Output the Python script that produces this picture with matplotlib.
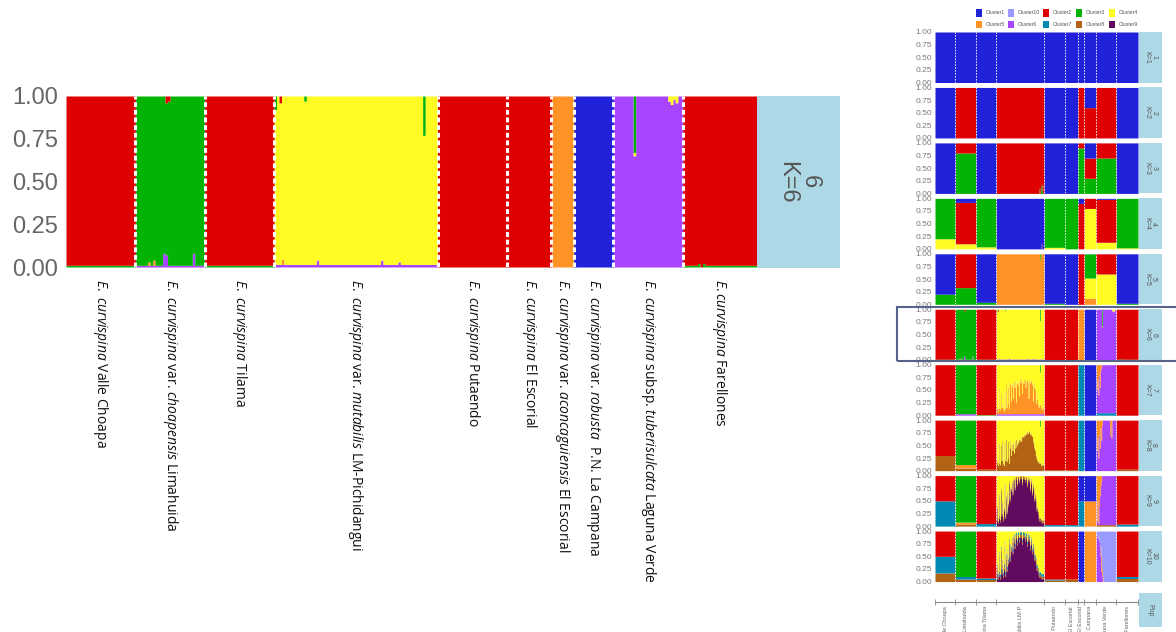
import numpy as np
import matplotlib.pyplot as plt
from matplotlib.patches import Rectangle
import matplotlib.transforms as mtransforms

plt.rcParams['font.family'] = ['Liberation Sans', 'DejaVu Sans']
plt.rcParams['mathtext.fontset'] = 'custom'
plt.rcParams['mathtext.rm'] = 'Open Sans'
plt.rcParams['mathtext.it'] = 'Open Sans:italic'

# ---- data ----
pop_labels = [
    r'$\it{E.\ curvispina}$ Valle Choapa',
    r'$\it{E.\ curvispina}$ var. $\it{choapensis}$ Limahuida',
    r'$\it{E.\ curvispina}$ Tilama',
    r'$\it{E.\ curvispina}$ var. $\it{mutabilis}$ LM-Pichidangui',
    r'$\it{E.\ curvispina}$ Putaendo',
    r'$\it{E.\ curvispina}$ El Escorial',
    r'$\it{E.\ curvispina}$ var. $\it{aconcaguiensis}$ El Escorial',
    r'$\it{E.\ curvispina}$ var. $\it{robusta}$  P.N. La Campana',
    r'$\it{E.\ curvispina}$ subsp. $\it{tuberisulcata}$ Laguna Verde',
    r'$\it{E.curvispina}$ Farellones',
]
pop_short = ['E. curvispina Valle Choapa', 'E. curvispina Limahuida', 'E. curvispina Tilama',
             'E. curvispina var. mutabilis LM-P', 'E. curvispina Putaendo', 'E. curvispina El Escorial',
             'aconcaguiensis El Escorial', 'robusta La Campana', 'tuberisulcata Laguna Verde',
             'E. curvispina Farellones']
pop_n = [28, 28, 28, 66, 28, 18, 9, 16, 28, 30]

cluster_colors = {1: '#2121D9', 10: '#9999FF', 2: '#DF0101', 3: '#04B404', 4: '#FFFB23',
                  5: '#FF9326', 6: '#A945FF', 7: '#0089B2', 8: '#B26314', 9: '#610B5E'}
stack_order = [1, 10, 2, 3, 4, 5, 6, 7, 8, 9]  # top to bottom

# population mean memberships per K (cluster: fraction), pops in order above
pop_means = {
    1: [{1: 1}] * 10,
    2: [{1: 1}, {2: 1}, {1: 1}, {2: 1}, {1: 1}, {1: 1}, {2: 1}, {1: 0.4, 2: 0.6}, {2: 1}, {1: 1}],
    3: [{1: 1}, {2: 0.2, 3: 0.8}, {1: 1}, {2: 1}, {1: 1}, {1: 1}, {2: 0.1, 3: 0.9},
        {1: 0.3, 2: 0.4, 3: 0.3}, {2: 0.3, 3: 0.7}, {1: 1}],
    4: [{3: 0.8, 4: 0.2}, {1: 0.08, 2: 0.82, 4: 0.1}, {3: 0.96, 4: 0.04}, {1: 1},
        {3: 0.97, 4: 0.03}, {3: 1}, {1: 0.1, 2: 0.9}, {2: 0.2, 4: 0.8},
        {1: 0.02, 2: 0.85, 4: 0.13}, {3: 0.98, 4: 0.02}],
    5: [{1: 0.8, 3: 0.2}, {2: 0.67, 3: 0.33}, {1: 0.96, 3: 0.04}, {5: 1}, {1: 0.98, 3: 0.02},
        {1: 1}, {2: 1}, {3: 0.48, 4: 0.4, 5: 0.12}, {2: 0.4, 4: 0.6}, {1: 0.98, 3: 0.02}],
    6: [{2: 0.99, 3: 0.01}, {3: 0.99, 6: 0.01}, {2: 0.99, 3: 0.01}, {4: 0.985, 6: 0.015},
        {2: 1}, {2: 1}, {5: 1}, {1: 1}, {6: 1}, {2: 0.99, 3: 0.01}],
    7: [{2: 1}, {3: 0.97, 6: 0.03}, {2: 0.99, 3: 0.01}, {4: 0.97, 6: 0.03}, {2: 1}, {2: 1},
        {7: 1}, {1: 1}, {6: 0.95, 7: 0.05}, {2: 1}],
    8: [{2: 0.7, 8: 0.3}, {3: 0.88, 5: 0.07, 8: 0.05}, {2: 0.97, 8: 0.03}, {4: 1},
        {2: 0.98, 8: 0.02}, {2: 0.98, 8: 0.02}, {7: 1}, {1: 1}, {6: 1}, {2: 0.97, 8: 0.03}],
    9: [{2: 0.5, 7: 0.5}, {3: 0.92, 5: 0.04, 8: 0.04}, {2: 0.95, 7: 0.05}, {4: 0.95, 8: 0.05},
        {2: 0.97, 7: 0.03}, {2: 0.97, 7: 0.03}, {1: 0.5, 7: 0.5}, {1: 0.5, 5: 0.5},
        {6: 0.97, 8: 0.03}, {2: 0.96, 7: 0.04}],
    10: [{2: 0.5, 7: 0.33, 8: 0.17}, {3: 0.9, 7: 0.05, 8: 0.05}, {2: 0.93, 7: 0.03, 8: 0.04},
         {4: 0.9, 7: 0.05, 8: 0.05}, {2: 0.95, 7: 0.02, 8: 0.03}, {2: 0.95, 8: 0.05}, {1: 1},
         {5: 1}, {10: 1}, {2: 0.9, 7: 0.04, 8: 0.06}],
}

# individual profiles in mutabilis (66 individuals) for K=7..10
mu_orange_k7 = [0.10, 0.12, 0.05, 0.50, 0.10, 0.08, 0.40, 0.12, 0.18, 0.10,
                0.05, 0.45, 0.10, 0.58, 0.12, 0.20, 0.52, 0.10, 0.62, 0.58,
                0.25, 0.55, 0.60, 0.30, 0.64, 0.52, 0.66, 0.22, 0.60, 0.65,
                0.56, 0.35, 0.68, 0.62, 0.70, 0.40, 0.65, 0.60, 0.68, 0.66,
                0.52, 0.64, 0.68, 0.62, 0.30, 0.66, 0.60, 0.68, 0.64, 0.58,
                0.25, 0.60, 0.52, 0.48, 0.20, 0.42, 0.28, 0.18, 0.12, 0.22,
                0.18, 0.12, 0.08, 0.18, 0.12, 0.08]
mu_brown_k8 = [0.15, 0.20, 0.10, 0.55, 0.15, 0.12, 0.50, 0.20, 0.60, 0.15,
               0.10, 0.55, 0.20, 0.62, 0.18, 0.25, 0.58, 0.15, 0.45, 0.60,
               0.30, 0.52, 0.40, 0.55, 0.35, 0.60, 0.45, 0.62, 0.50, 0.58,
               0.55, 0.62, 0.60, 0.65, 0.58, 0.68, 0.70, 0.66, 0.72, 0.70,
               0.75, 0.72, 0.78, 0.74, 0.76, 0.80, 0.72, 0.75, 0.70, 0.68,
               0.60, 0.55, 0.45, 0.40, 0.30, 0.25, 0.20, 0.18, 0.15, 0.20,
               0.15, 0.12, 0.10, 0.15, 0.12, 0.10]
mu_dpurple_k9 = [0.10, 0.35, 0.05, 0.60, 0.15, 0.08, 0.70, 0.20, 0.45, 0.10,
                 0.30, 0.80, 0.15, 0.55, 0.25, 0.65, 0.40, 0.85, 0.50, 0.75,
                 0.70, 0.85, 0.62, 0.88, 0.92, 0.72, 0.93, 0.94, 0.80, 0.94,
                 0.94, 0.86, 0.95, 0.94, 0.95, 0.82, 0.94, 0.95, 0.93, 0.88,
                 0.92, 0.94, 0.78, 0.93, 0.88, 0.91, 0.70, 0.90, 0.84, 0.62,
                 0.78, 0.72, 0.50, 0.60, 0.50, 0.30, 0.35, 0.25, 0.15, 0.10,
                 0.12, 0.08, 0.10, 0.06, 0.08, 0.05]
mu_dpurple_k10 = [0.05, 0.25, 0.05, 0.50, 0.10, 0.05, 0.60, 0.15, 0.35, 0.08,
                  0.25, 0.70, 0.10, 0.45, 0.20, 0.55, 0.35, 0.75, 0.40, 0.65,
                  0.60, 0.78, 0.55, 0.80, 0.85, 0.66, 0.86, 0.88, 0.72, 0.88,
                  0.89, 0.78, 0.89, 0.88, 0.89, 0.74, 0.88, 0.89, 0.87, 0.80,
                  0.85, 0.87, 0.70, 0.86, 0.80, 0.84, 0.62, 0.80, 0.74, 0.55,
                  0.66, 0.60, 0.42, 0.45, 0.38, 0.22, 0.24, 0.18, 0.12, 0.08,
                  0.10, 0.06, 0.08, 0.05, 0.06, 0.04]

# (K, pop, cluster, taken from cluster, first individual, values)
profiles = [
    (3, 3, 3, 2, 59, [0.10, 0.0, 0.15, 0.05, 0.18]),
    (4, 3, 2, 1, 62, [0.10]),
    (5, 3, 3, 5, 60, [0.12]),
    (6, 1, 6, 3, 11, [0.08, 0.07]),
    (6, 1, 6, 3, 23, [0.08]),
    (6, 1, 2, 3, 12, [0.04, 0.03]),
    (6, 1, 5, 3, 5, [0.02, 0.0, 0.03]),
    (6, 3, 3, 4, 0, [0.08]),
    (6, 3, 2, 4, 2, [0.04]),
    (6, 3, 3, 4, 12, [0.03]),
    (6, 3, 6, 4, 17, [0.04]),
    (6, 3, 6, 4, 43, [0.04]),
    (6, 3, 6, 4, 50, [0.03]),
    (6, 3, 5, 4, 3, [0.03]),
    (6, 3, 3, 4, 60, [0.23]),
    (6, 8, 3, 6, 8, [0.33]),
    (6, 8, 4, 6, 8, [0.02]),
    (6, 8, 4, 6, 22, [0.03, 0.05, 0.02, 0.04]),
    (6, 9, 3, 2, 6, [0.02, 0.0, 0.02]),
    (7, 3, 5, 4, 0, mu_orange_k7),
    (7, 3, 3, 4, 60, [0.15]),
    (7, 8, 5, 6, 0, [0.10, 0.50, 0.30, 0.60, 0.20, 0.45, 0.10, 0.05]),
    (8, 3, 8, 4, 0, mu_brown_k8),
    (8, 3, 3, 4, 60, [0.12]),
    (8, 8, 5, 6, 0, [0.20, 0.60, 0.35, 0.75, 0.30, 0.55, 0.15, 0.40, 0.10]),
    (8, 8, 5, 6, 19, [0.30, 0.10, 0.35]),
    (9, 3, 9, 4, 0, mu_dpurple_k9),
    (9, 8, 5, 6, 0, [0.30, 0.90, 0.50, 0.95, 0.60, 0.40, 0.20, 0.10]),
    (10, 3, 9, 4, 0, mu_dpurple_k10),
    (10, 8, 6, 10, 0, [0.90, 0.95, 0.85, 0.90, 0.80, 0.70, 0.50, 0.20, 0.10]),
    (10, 8, 5, 10, 6, [0.20, 0.30, 0.15, 0.10]),
]

# ---- helpers ----
n_total = sum(pop_n)
starts = np.concatenate([[0], np.cumsum(pop_n)])
centers = (starts[:-1] + starts[1:]) / 2


def build_q(k):
    q = np.zeros((n_total, 11))
    for p, means in enumerate(pop_means[k]):
        for c, v in means.items():
            q[starts[p]:starts[p + 1], c] = v
    for kk, p, c, src, i0, vals in profiles:
        if kk != k:
            continue
        for j, v in enumerate(vals):
            r = starts[p] + i0 + j
            q[r, src] -= v - q[r, c]
            q[r, c] = v
    return np.clip(q, 0, None)


def draw_struct(ax, q, lw_div, dash):
    xs = np.arange(n_total + 1)
    lower = np.zeros(n_total)
    for c in stack_order[::-1]:
        upper = lower + q[:, c]
        if q[:, c].any():
            ax.fill_between(xs, np.append(lower, lower[-1]), np.append(upper, upper[-1]),
                            step='post', color=cluster_colors[c], lw=0)
        lower = upper
    for b in starts[1:-1]:
        ax.axvline(b, color='white', lw=lw_div, ls=dash)
    ax.set_xlim(0, n_total)
    ax.set_ylim(0, 1)
    for s in ax.spines.values():
        s.set_visible(False)
    ax.set_xticks([])


W, H = 1176, 632
fig = plt.figure(figsize=(W / 100, H / 100), dpi=100)


def px_axes(x0, y0, x1, y1):
    return fig.add_axes([x0 / W, 1 - y1 / H, (x1 - x0) / W, (y1 - y0) / H])


yt = [0, 0.25, 0.5, 0.75, 1.0]
ytl = ['0.00', '0.25', '0.50', '0.75', '1.00']

# ---- big K=6 panel ----
ax = px_axes(66, 96, 757, 267)
draw_struct(ax, build_q(6), 2.2, (0, (1.6, 0.9)))
ax.set_yticks(yt)
ax.set_yticklabels(ytl, fontsize=17, color='#666666')
ax.tick_params(axis='y', length=0, pad=6)
strip = px_axes(757, 96, 840, 268)
strip.set_facecolor('#ADD8E6')
strip.set_xticks([])
strip.set_yticks([])
for s in strip.spines.values():
    s.set_visible(False)
strip.text(0.5, 0.5, '6\nK=6', rotation=270, ha='center', va='center', fontsize=17,
           color='#555555', linespacing=1.0, transform=strip.transAxes)
trans = mtransforms.blended_transform_factory(ax.transData, ax.transAxes)
for p, lab in enumerate(pop_labels):
    ax.text(centers[p], -0.07, lab, rotation=270, ha='center', va='top', fontsize=10,
            family='Open Sans', color='#111111', transform=trans)

# ---- small faceted panels K=1..10 ----
for k in range(1, 11):
    top = 32 + (k - 1) * 55.45
    a = px_axes(935, top, 1138, top + 50.5)
    draw_struct(a, build_q(k), 0.6, (0, (2, 1.5)))
    a.set_yticks(yt)
    a.set_yticklabels(ytl, fontsize=6, color='#7a7a7a')
    a.tick_params(axis='y', length=0, pad=2)
    st = px_axes(1138.7, top, 1161.7, top + 50.5)
    st.set_facecolor('#ADD8E6')
    st.set_xticks([])
    st.set_yticks([])
    for s in st.spines.values():
        s.set_visible(False)
    st.text(0.5, 0.5, '%d\nK=%d' % (k, k), rotation=270, ha='center', va='center',
            fontsize=5, color='#555555', linespacing=1.0, transform=st.transAxes)

# pop axis at the bottom of facets
pa = px_axes(935, 590, 1138, 602)
pa.set_xlim(0, n_total)
pa.set_ylim(0, 1)
pa.patch.set_alpha(0)
for name, s in pa.spines.items():
    s.set_visible(name == 'bottom')
pa.spines['bottom'].set_color('#8a8a8a')
pa.spines['bottom'].set_linewidth(0.8)
pa.set_yticks([])
pa.set_xticks(starts)
pa.set_xticklabels([])
pa.tick_params(axis='x', direction='inout', length=5, width=0.6, color='#8a8a8a')
ptrans = mtransforms.blended_transform_factory(pa.transData, pa.transAxes)
for p, lab in enumerate(pop_short):
    pa.text(centers[p], -0.35, lab, rotation=90, ha='right', va='center',
            rotation_mode='anchor', fontsize=4, color='#666666', transform=ptrans)
ps = px_axes(1138.7, 593, 1161.7, 627)
ps.set_facecolor('#ADD8E6')
ps.set_xticks([])
ps.set_yticks([])
for s in ps.spines.values():
    s.set_visible(False)
ps.text(0.5, 0.5, 'Pop', rotation=270, ha='center', va='center', fontsize=5,
        color='#555555', transform=ps.transAxes)

# legend
leg_cols = [979, 1011, 1046, 1079, 1112]
leg_rows = [13, 24.3]
leg_order = [[1, 10, 2, 3, 4], [5, 6, 7, 8, 9]]
for r, row in enumerate(leg_order):
    for j, c in enumerate(row):
        x0, y0 = leg_cols[j], leg_rows[r]
        fig.patches.append(Rectangle(((x0 - 3.3) / W, 1 - (y0 + 3.6) / H), 6.6 / W, 7.2 / H,
                                     facecolor=cluster_colors[c], edgecolor='none',
                                     transform=fig.transFigure))
        fig.text((x0 + 7) / W, 1 - y0 / H, 'Cluster%d' % c, fontsize=3.7, color='#555555',
                 ha='left', va='center')

# highlight frame around K=6 facet
fig.patches.append(Rectangle((897 / W, 1 - 360.7 / H), (1180 - 897) / W, 54 / H,
                             facecolor='none', edgecolor='#56648a', lw=1.5,
                             transform=fig.transFigure))

fig.savefig('out.png', dpi=100)
